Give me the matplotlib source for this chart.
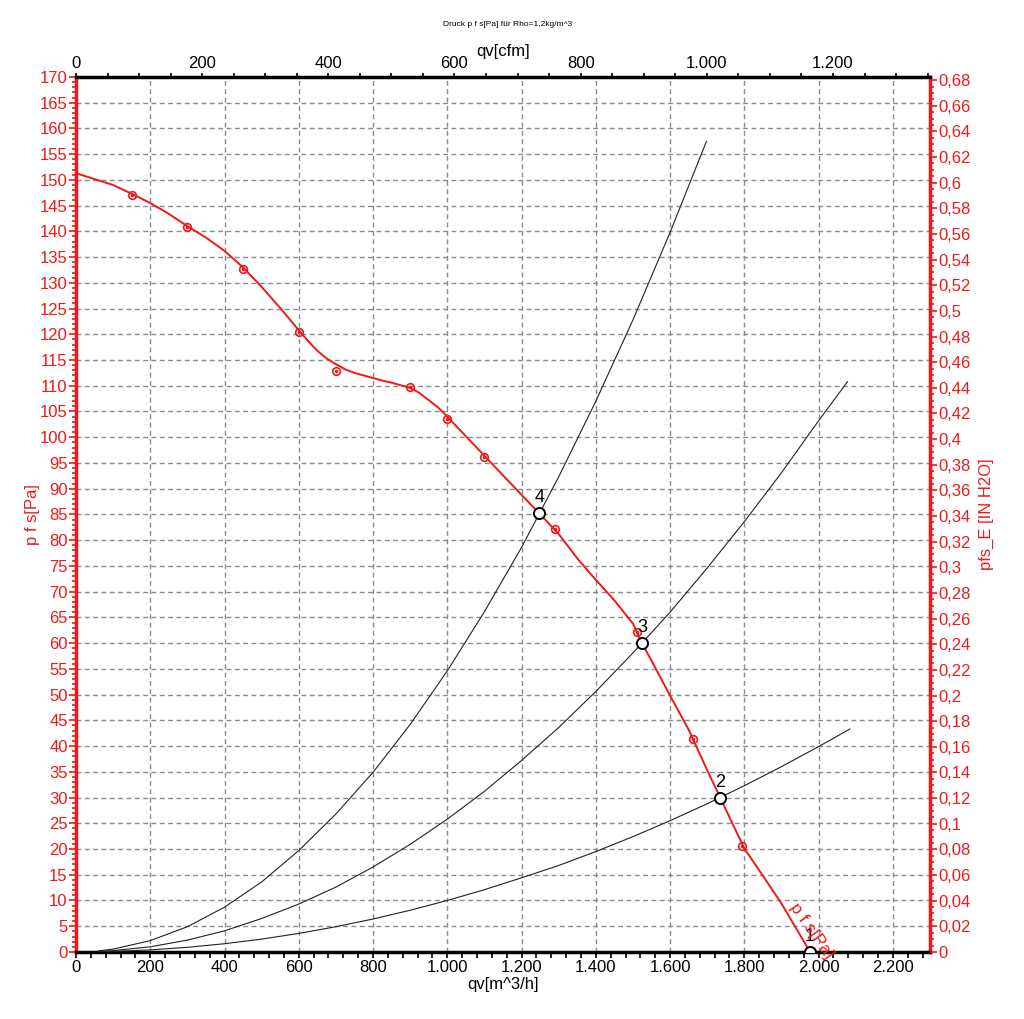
import matplotlib
matplotlib.use("Agg")
import matplotlib.pyplot as plt
from matplotlib.ticker import MultipleLocator, FuncFormatter

plt.rcParams['font.family'] = ['Liberation Sans', 'DejaVu Sans']

# fan curve (smooth line)
q_fan = [0, 100, 150, 200, 250, 300, 350, 400, 450, 500, 550, 600, 625, 650, 675, 700,
         725, 750, 775, 800, 825, 850, 875, 900, 925, 950, 975, 1000, 1050, 1100,
         1200, 1248, 1300, 1353, 1400, 1450, 1500, 1524, 1550, 1600, 1650, 1700,
         1735, 1750, 1800, 1850, 1900, 1977]
p_fan = [151.3, 149.0, 147.3, 145.5, 143.4, 141.0, 138.8, 136.2, 133.0, 129.2, 125.1,
         120.8, 118.7, 116.8, 115.3, 114.2, 113.2, 112.5, 112.0, 111.5, 111.0, 110.6,
         110.1, 109.6, 108.6, 107.2, 105.8, 104.0, 100.2, 96.4, 88.8, 85.2, 81.2, 76.2,
         72.3, 68.3, 63.8, 60.0, 56.6, 49.8, 43.2, 35.3, 30.0, 27.7, 20.1, 14.8, 9.4, 0.0]

# measured points (red circles)
q_meas = [150, 300, 450, 600, 700, 900, 1000, 1100, 1290, 1512, 1662, 1795]
p_meas = [147.1, 140.8, 132.6, 120.5, 112.9, 109.7, 103.5, 96.2, 82.2, 62.2, 41.4, 20.6]

# system curves (black)
q_sys4 = [60, 100, 200, 300, 400, 500, 600, 700, 800, 900, 1000, 1100, 1200, 1300,
          1400, 1500, 1600, 1698]
p_sys4 = [0.2, 0.55, 2.2, 4.9, 8.7, 13.6, 19.7, 26.8, 34.9, 44.2, 54.6, 66.1, 78.6,
          92.3, 107.0, 122.8, 139.8, 157.5]
q_sys3 = [60, 100, 200, 300, 400, 500, 600, 700, 800, 900, 1000, 1100, 1200, 1300,
          1400, 1500, 1600, 1700, 1800, 1900, 2000, 2078]
p_sys3 = [0.1, 0.26, 1.0, 2.3, 4.1, 6.5, 9.3, 12.6, 16.5, 20.9, 25.8, 31.2, 37.2, 43.6,
          50.6, 58.1, 66.0, 74.6, 83.6, 93.1, 103.2, 110.8]
q_sys2 = [60, 100, 200, 300, 400, 500, 600, 700, 800, 900, 1000, 1100, 1200, 1300,
          1400, 1500, 1600, 1700, 1800, 1900, 2000, 2084]
p_sys2 = [0.04, 0.1, 0.4, 0.9, 1.6, 2.5, 3.6, 4.9, 6.4, 8.1, 10.0, 12.1, 14.4, 16.8,
          19.5, 22.4, 25.5, 28.8, 32.3, 36.0, 39.9, 43.3]

# operating points
q_op = [1977, 1735, 1524, 1248]
p_op = [0.0, 30.0, 60.0, 85.2]
op_labels = ['1', '2', '3', '4']

RED = '#f01818'
M3H_TO_CFM = 0.58858
PA_TO_INH2O = 1 / 249.089
FS = 12

fig = plt.figure(figsize=(10.24, 10.19), dpi=100)
ax = fig.add_axes([0.0742, 0.0658, 0.834, 0.8587])
ax.set_xlim(0, 2300)
ax.set_ylim(0, 170)

ax.grid(True, which='major', color='#8a8a8a', linestyle=(0, (3.5, 2.5)), linewidth=1.0)
ax.set_axisbelow(True)

for qs, ps in [(q_sys4, p_sys4), (q_sys3, p_sys3), (q_sys2, p_sys2)]:
    ax.plot(qs, ps, color='#222222', lw=0.8, zorder=3)

ax.plot(q_fan, p_fan, color=RED, lw=1.4, zorder=4)
ax.plot(q_meas, p_meas, 'o', mfc='none', mec=RED, mew=1.2, ms=5.5, zorder=5)
ax.plot(q_meas, p_meas, 'o', color=RED, ms=1.5, zorder=5)

ax.plot(q_op, p_op, 'o', mfc='white', mec='black', mew=1.4, ms=8, zorder=6)
for q, p, lab in zip(q_op, p_op, op_labels):
    ax.annotate(lab, (q, p), xytext=(0, 5), textcoords='offset points',
                ha='center', va='bottom', fontsize=13, zorder=7)

ax.text(1980, 4.1, 'p f s[Pa]', color=RED, fontsize=12.5, rotation=-55,
        ha='center', va='center', zorder=7)

# bottom axis
ax.xaxis.set_major_locator(MultipleLocator(200))
ax.xaxis.set_minor_locator(MultipleLocator(40))
ax.xaxis.set_major_formatter(FuncFormatter(lambda v, p: f"{int(round(v)):,}".replace(',', '.')))
ax.tick_params(axis='x', which='both', direction='out', colors='black', labelsize=FS,
               width=1.2, length=4, pad=2)
ax.set_xlabel('qv[m^3/h]', fontsize=FS, labelpad=1)

# left axis
ax.yaxis.set_major_locator(MultipleLocator(5))
ax.yaxis.set_minor_locator(MultipleLocator(1))
ax.tick_params(axis='y', which='both', direction='out', colors=RED, labelsize=FS,
               width=1.2, pad=1)
ax.tick_params(axis='y', which='major', length=5)
ax.tick_params(axis='y', which='minor', length=3)
ax.set_ylabel('p f s[Pa]', color=RED, fontsize=FS, labelpad=0)

for side in ['left', 'right']:
    ax.spines[side].set_color(RED)
    ax.spines[side].set_linewidth(2.5)
for side in ['top', 'bottom']:
    ax.spines[side].set_color('black')
    ax.spines[side].set_linewidth(2.5)

# top axis in cfm
axt = ax.twiny()
axt.set_xlim(0, 2300 * M3H_TO_CFM)
axt.xaxis.set_major_locator(MultipleLocator(200))
axt.xaxis.set_minor_locator(MultipleLocator(50))
axt.xaxis.set_major_formatter(FuncFormatter(lambda v, p: f"{int(round(v)):,}".replace(',', '.')))
axt.tick_params(axis='x', which='both', direction='out', length=3, width=1.2,
                labelsize=FS, pad=1)
axt.set_xlabel('qv[cfm]', fontsize=FS, labelpad=0)
for s in axt.spines.values():
    s.set_visible(False)

# right axis in inH2O
axr = ax.twinx()
axr.set_ylim(0, 170 * PA_TO_INH2O)
axr.yaxis.set_major_locator(MultipleLocator(0.02))
axr.yaxis.set_minor_locator(MultipleLocator(0.005))


def comma_fmt(v, pos):
    s = f"{v:.2f}".rstrip('0').rstrip('.')
    return s.replace('.', ',')


axr.yaxis.set_major_formatter(FuncFormatter(comma_fmt))
axr.tick_params(axis='y', which='both', direction='out', colors=RED, labelsize=FS,
                width=1.2, pad=1)
axr.tick_params(axis='y', which='major', length=5)
axr.tick_params(axis='y', which='minor', length=3)
axr.set_ylabel('pfs_E [IN H2O]', color=RED, fontsize=FS, labelpad=6)
for s in axr.spines.values():
    s.set_visible(False)

fig.text(508 / 1024, 1 - 24 / 1019, 'Druck p f s[Pa] für Rho=1,2kg/m^3',
         fontsize=6, ha='center', va='center')

fig.savefig('out.png', dpi=100)
